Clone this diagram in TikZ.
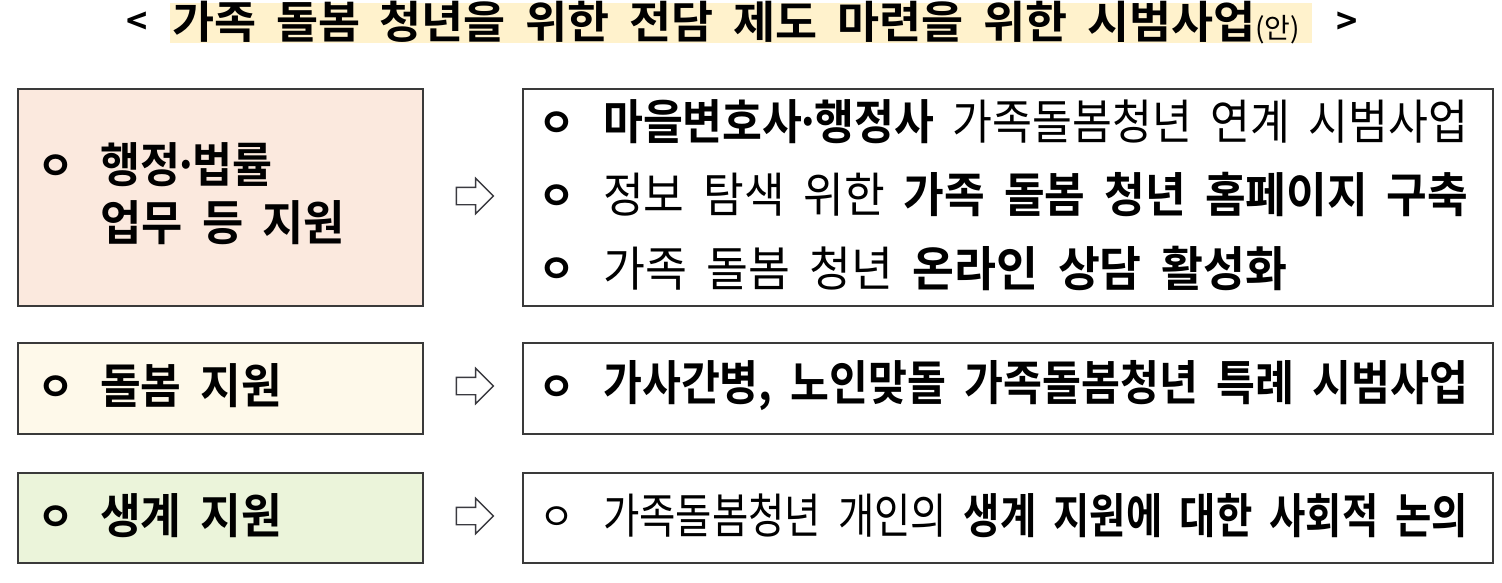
\documentclass[tikz,border=0pt]{standalone}
\usepackage{fontspec}
\usepackage{graphicx}
\setmainfont{Noto Sans CJK KR}[BoldFont=Noto Sans CJK KR Bold, WordSpace={1.9,0.5,0.3}]
\usetikzlibrary{shapes.arrows}
\definecolor{peach}{HTML}{FBE9DE}
\definecolor{cream}{HTML}{FEF9EA}
\definecolor{lgreen}{HTML}{EBF4DA}
\definecolor{hilite}{HTML}{FFF2CC}
\definecolor{boxline}{HTML}{3A3A3A}
\definecolor{arrowline}{HTML}{3A3A40}
% scale a line to the given width, slightly taller
\newcommand{\fitline}[2]{\resizebox{#1}{1.06\height}{#2}}
\newcommand{\mdot}{\kern-7pt·\kern-7pt}
\tikzset{
  x=1pt, y=-1pt,
  panel/.style={draw=boxline, line width=2pt, rectangle, inner sep=0pt, anchor=north west},
  txt/.style={anchor=west, inner sep=0pt, font=\fontsize{45}{48}\selectfont},
  btxt/.style={txt, font=\fontsize{45}{48}\selectfont\bfseries},
  bul/.style={inner sep=0pt, font=\fontsize{40}{42}\selectfont\bfseries},
  bulthin/.style={inner sep=0pt, font=\fontsize{38}{40}\selectfont},
  hollowarrow/.style={single arrow, draw=arrowline, fill=white, line width=1.4pt,
     inner sep=8pt, minimum height=37pt, minimum width=34pt, single arrow head extend=9pt}
}
\begin{document}
\begin{tikzpicture}
\useasboundingbox (0,0) rectangle (1502,582);
% title
\node[fill=hilite, anchor=north west, minimum width=1142pt, minimum height=40pt, inner sep=0pt] (hl) at (170,3) {};
\node[btxt, font=\fontsize{36}{40}\selectfont\bfseries] (tl) at (126,23) {<};
\node[btxt, font=\fontsize{42}{46}\selectfont\bfseries] (title) at (172,23) {\fitline{1083pt}{가족 돌봄 청년을 위한 전담 제도 마련을 위한 시범사업}{\fontsize{28}{30}\selectfont\mdseries(안)}};
\node[btxt, font=\fontsize{36}{40}\selectfont\bfseries] (tr) at (1336,23) {>};

% left panels
\node[panel, fill=peach, minimum width=405pt, minimum height=217pt] (L1) at (17,88) {};
\node[panel, fill=cream, minimum width=405pt, minimum height=91pt] (L2) at (17,342) {};
\node[panel, fill=lgreen, minimum width=405pt, minimum height=90pt] (L3) at (17,472) {};
% right panels
\node[panel, fill=white, minimum width=970pt, minimum height=217pt] (R1) at (522,88) {};
\node[panel, fill=white, minimum width=970pt, minimum height=91pt] (R2) at (522,342) {};
\node[panel, fill=white, minimum width=970pt, minimum height=90pt] (R3) at (522,472) {};

% arrows
\node[hollowarrow] (A1) at (470.5,196) {};
\node[hollowarrow] (A2) at (470.5,386) {};
\node[hollowarrow] (A3) at (470.5,516) {};

% left texts
\node[bul] (b1) at (56,168) {ㅇ};
\node[btxt] (t1a) at (100,165) {\fitline{172pt}{행정\mdot 법률}};
\node[btxt] (t1b) at (100,223) {\fitline{245pt}{업무 등 지원}};
\node[bul] (b2) at (56,389) {ㅇ};
\node[btxt] (t2) at (100,386) {\fitline{182pt}{돌봄 지원}};
\node[bul] (b3) at (56,519) {ㅇ};
\node[btxt] (t3) at (100,516) {\fitline{182pt}{생계 지원}};

% right texts
\node[bul] (rb1) at (557,125) {ㅇ};
\node[txt] (r1) at (603,122) {\fitline{865pt}{\textbf{마을변호사\mdot 행정사} 가족돌봄청년 연계 시범사업}};
\node[bul] (rb2) at (557,198) {ㅇ};
\node[txt] (r2) at (603,195) {\fitline{865pt}{정보 탐색 위한 \textbf{가족 돌봄 청년 홈페이지 구축}}};
\node[bul] (rb3) at (557,271) {ㅇ};
\node[txt] (r3) at (603,268) {\fitline{684pt}{가족 돌봄 청년 \textbf{온라인 상담 활성화}}};
\node[bul] (rb4) at (557,389) {ㅇ};
\node[btxt] (r4) at (603,386) {\fitline{865pt}{가사간병, 노인맞돌 가족돌봄청년 특례 시범사업}};
\node[bulthin] (rb5) at (557,519) {ㅇ};
\node[txt] (r5) at (603,516) {\fitline{865pt}{가족돌봄청년 개인의 \textbf{생계 지원에 대한 사회적 논의}}};
\end{tikzpicture}
\end{document}
